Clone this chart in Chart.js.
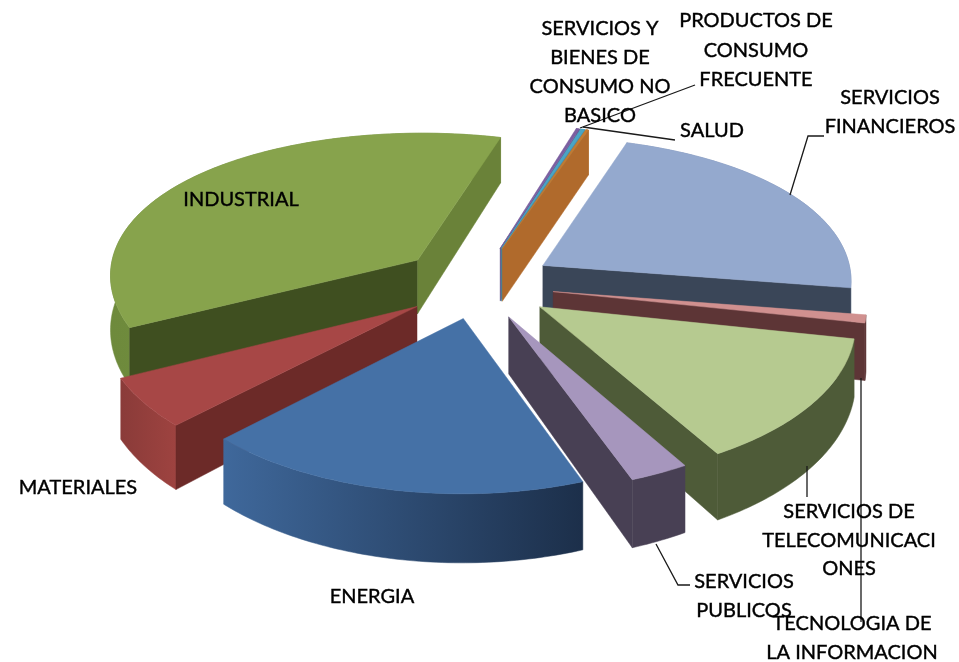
<!DOCTYPE html>
<html>
<head>
<meta charset="utf-8">
<style>
  html, body { margin:0; padding:0; background:#fff; }
  #wrap { width:959px; height:662px; }
</style>
<script src="https://cdn.jsdelivr.net/npm/chart.js@4"></script>
</head>
<body>
<div id="wrap"><canvas id="pieChart" width="959" height="662"></canvas></div>
<script>
const categorias = [
  "ENERGIA", "MATERIALES", "INDUSTRIAL",
  "SERVICIOS Y BIENES DE CONSUMO NO BASICO",
  "PRODUCTOS DE CONSUMO FRECUENTE", "SALUD",
  "SERVICIOS FINANCIEROS", "TECNOLOGIA DE LA INFORMACION",
  "SERVICIOS DE TELECOMUNICACIONES", "SERVICIOS PUBLICOS"
];
const valores = [18.2, 5.3, 36.7, 0.2, 0.25, 0.16, 22.3, 0.83, 13.33, 2.78];

/* colores */
const topColors = ["#4571a6","#a74746","#87a34c","#7b5ea0","#4aa5c5","#c47a30","#94a9ce","#d0908f","#b6ca90","#a696bd"];
const sideColors = ["#1c2f4a","#6c2a28","#3f4f20","#5f4880","#3a8aa5","#b06a2c","#3a4658","#5d3536","#4e5b38","#484054"];
const endColors = ["#1c2f4a","#6c2a28","#6a8239","#5f4880","#3a8aa5","#b06a2c","#3a4658","#5d3536","#4e5b38","#484054"];
const outerFrom = ["#3f689b","#8a3b39","#6e8a3c","#5f4880","#3a8aa5","#b06a2c","#7a8db0","#5d3536","#4e5b38","#484054"];
const outerTo = ["#1c2f4a","#9e4340","#7b9644","#5f4880","#3a8aa5","#b06a2c","#7a8db0","#5d3536","#4e5b38","#484054"];
const separacion = [68, 74, 80, 80, 80, 80, 77, 76, 75, 70];

/* etiquetas */
const labelFont = "20px Lato";
const etiquetas = [
  { lines:["INDUSTRIAL"], x:241, y:200 },
  { lines:["MATERIALES"], x:78, y:488 },
  { lines:["ENERGIA"], x:372, y:597 },
  { lines:["SERVICIOS Y","BIENES DE","CONSUMO NO","BASICO"], x:600, y:29, step:29 },
  { lines:["PRODUCTOS DE","CONSUMO","FRECUENTE"], x:756, y:21, step:29.5 },
  { lines:["SALUD"], x:712, y:131 },
  { lines:["SERVICIOS","FINANCIEROS"], x:890, y:98, step:29 },
  { lines:["SERVICIOS","PUBLICOS"], x:744, y:582, step:29 },
  { lines:["SERVICIOS DE","TELECOMUNICACI","ONES"], x:849, y:512, step:28.5 },
  { lines:["TECNOLOGIA DE","LA INFORMACION"], x:852, y:624, step:29 }
];
const guias = [
  [[790,195],[808,136],[824,136]],
  [[861,378],[861,622]],
  [[807,466],[807,497]],
  [[656,544],[678,585],[690,585]],
  [[583,127],[675,140]],
  [[580,128],[695,85]]
];

/* camara del pastel 3D */
const camD = 3500, camK = 0.495, camH = 55, camFondo = 5300;

function proj(el, X, Y, z){
  const s = camD / (camD - Y);
  const fondo = Y < 0 ? camFondo / (camFondo - Y) : 1;
  return [el.x + X * s, el.y + Y * camK * s * fondo + z * camH * s * s];
}

function poly(ctx, pts, fill){
  ctx.beginPath();
  pts.forEach((p, i) => i ? ctx.lineTo(p[0], p[1]) : ctx.moveTo(p[0], p[1]));
  ctx.closePath();
  ctx.fillStyle = fill;
  ctx.fill();
  ctx.strokeStyle = fill;
  ctx.lineWidth = 0.5;
  ctx.stroke();
}

function drawSlice(ctx, el, i){
  const a0 = el.startAngle, a1 = el.endAngle, r = el.outerRadius;
  const mid = (a0 + a1) / 2;
  const off = el.options.offset;
  const ox = Math.cos(mid) * off, oy = Math.sin(mid) * off;
  const n = Math.max(2, Math.ceil((a1 - a0) * 60));
  const arc = [];
  for (let k = 0; k <= n; k++) {
    const a = a0 + (a1 - a0) * k / n;
    arc.push([ox + Math.cos(a) * r, oy + Math.sin(a) * r]);
  }
  const rim = z => arc.map(p => proj(el, p[0], p[1], z));
  const apex = z => proj(el, ox, oy, z);
  const top = rim(0), bottom = rim(1);

  // pared exterior
  const xs = top.map(p => p[0]);
  const grad = ctx.createLinearGradient(Math.min(...xs), 0, Math.max(...xs), 0);
  grad.addColorStop(0, outerFrom[i]);
  grad.addColorStop(1, outerTo[i]);
  poly(ctx, top.concat(bottom.slice().reverse()), grad);

  // paredes radiales visibles
  if (-Math.cos(a0) > 0) poly(ctx, [apex(0), top[0], bottom[0], apex(1)], sideColors[i]);
  if (Math.cos(a1) > 0) poly(ctx, [apex(0), top[n], bottom[n], apex(1)], endColors[i]);

  // cara superior
  poly(ctx, [apex(0)].concat(top), topColors[i]);
}

const pie3d = {
  id:"pie3d",
  beforeDatasetDraw(chart, args){
    const ctx = chart.ctx;
    const arcs = args.meta.data.map((el, i) => ({ el, i }));
    arcs.sort((a, b) =>
      Math.sin((a.el.startAngle + a.el.endAngle) / 2) - Math.sin((b.el.startAngle + b.el.endAngle) / 2));
    arcs.forEach(o => drawSlice(ctx, o.el, o.i));
    return false;
  },
  afterDraw(chart){
    const ctx = chart.ctx;
    ctx.save();
    ctx.strokeStyle = "#1a1a1a";
    ctx.lineWidth = 1.3;
    guias.forEach(g => {
      ctx.beginPath();
      g.forEach((p, i) => i ? ctx.lineTo(p[0], p[1]) : ctx.moveTo(p[0], p[1]));
      ctx.stroke();
    });
    ctx.fillStyle = "#000";
    ctx.strokeStyle = "#000";
    ctx.lineWidth = 0.4;
    ctx.font = labelFont;
    ctx.textAlign = "center";
    ctx.textBaseline = "middle";
    etiquetas.forEach(e => {
      e.lines.forEach((t, k) => {
        ctx.fillText(t, e.x, e.y + k * (e.step || 0));
        ctx.strokeText(t, e.x, e.y + k * (e.step || 0));
      });
    });
    ctx.restore();
  }
};

new Chart(document.getElementById("pieChart"), {
  type:"pie",
  data:{
    labels:categorias,
    datasets:[{
      data:valores,
      backgroundColor:topColors,
      offset:separacion,
      borderWidth:0
    }]
  },
  options:{
    responsive:false,
    animation:false,
    rotation:159.5,
    radius:310,
    layout:{ padding:{ bottom:92, right:3 } },
    plugins:{ legend:{ display:false }, tooltip:{ enabled:false } }
  },
  plugins:[pie3d]
});
</script>
</body>
</html>
